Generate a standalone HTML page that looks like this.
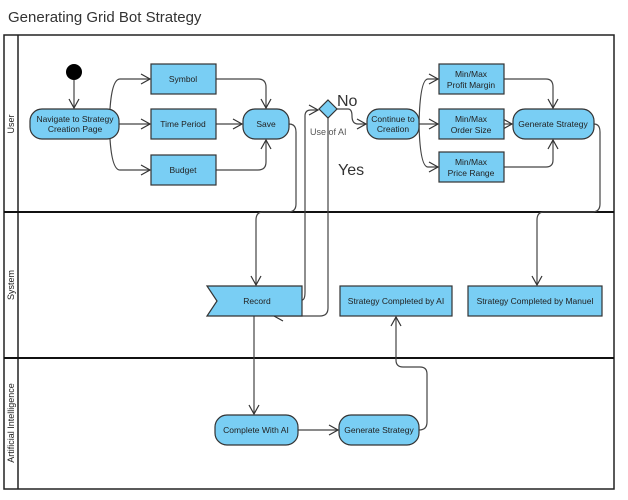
<!DOCTYPE html>
<html><head><meta charset="utf-8"><style>
body{margin:0;background:#fff;width:628px;height:500px;overflow:hidden}
svg{display:block}
text{font-family:"Liberation Sans",Arial,sans-serif}
</style></head><body>
<svg width="628" height="500" viewBox="0 0 628 500" xmlns="http://www.w3.org/2000/svg">
<defs>
<marker id="a" markerWidth="12" markerHeight="12" refX="10" refY="6" orient="auto" markerUnits="userSpaceOnUse">
<path d="M1,1 L10,6 L1,11" fill="none" stroke="#333" stroke-width="1.2"/>
</marker>
</defs>
<text x="8" y="22" font-size="15" fill="#333">Generating Grid Bot Strategy</text>
<!-- frame -->
<rect x="4" y="35" width="610" height="454" fill="#fff" stroke="#222" stroke-width="1.5"/>
<line x1="18" y1="35" x2="18" y2="489" stroke="#222" stroke-width="1.5"/>
<line x1="4" y1="212" x2="614" y2="212" stroke="#111" stroke-width="2"/>
<line x1="4" y1="358" x2="614" y2="358" stroke="#111" stroke-width="2"/>
<text transform="translate(14,124) rotate(-90)" text-anchor="middle" font-size="9" fill="#222">User</text>
<text transform="translate(14,285) rotate(-90)" text-anchor="middle" font-size="9" fill="#222">System</text>
<text transform="translate(14,423) rotate(-90)" text-anchor="middle" font-size="9" fill="#222">Artificial Intelligence</text>

<g fill="none" stroke="#444" stroke-width="1.2">
<!-- start -->
<path d="M74,80 V108" marker-end="url(#a)"/>
<path d="M110,109 Q112,79 120,79 H150" marker-end="url(#a)"/>
<path d="M119,124 H150" marker-end="url(#a)"/>
<path d="M110,139 Q112,170 120,170 H150" marker-end="url(#a)"/>
<path d="M216,79 H258 Q266,79 266,87 V108" marker-end="url(#a)"/>
<path d="M216,124 H242" marker-end="url(#a)"/>
<path d="M216,170 H258 Q266,170 266,162 V140" marker-end="url(#a)"/>
<!-- save to record -->
<path d="M289,124 Q296,124 296,132 V204 Q296,212 288,212 H263 Q256,212 256,220 V285" marker-end="url(#a)"/>
<!-- record to diamond -->
<path d="M302,300 Q305,300 305,292 V116 Q305,110 311,110 H318" marker-end="url(#a)"/>
<!-- diamond bottom to record -->
<path d="M328,118 V308 Q328,316 320,316 H274" marker-end="url(#a)"/>
<!-- diamond right to continue -->
<path d="M337,109 H348 Q352,109 352,116 Q352,124 358,124 H366" marker-end="url(#a)"/>
<path d="M419,124 H438" marker-end="url(#a)"/>
<path d="M419,124 Q420,79 428,79 H438" marker-end="url(#a)"/>
<path d="M419,124 Q420,167 428,167 H438" marker-end="url(#a)"/>
<path d="M504,79 H546 Q553,79 553,87 V108" marker-end="url(#a)"/>
<path d="M504,124 H512" marker-end="url(#a)"/>
<path d="M504,167 H546 Q553,167 553,160 V140" marker-end="url(#a)"/>
<!-- generate to manuel -->
<path d="M594,124 Q600,124 600,132 V204 Q600,212 592,212 H544 Q537,212 537,220 V285" marker-end="url(#a)"/>
<!-- record to complete -->
<path d="M254,316 V414" marker-end="url(#a)"/>
<path d="M298,430 H338" marker-end="url(#a)"/>
<path d="M419,430 Q427,430 427,422 V374 Q427,367 420,367 H403 Q396,367 396,360 V317" marker-end="url(#a)"/>
</g>

<circle cx="74" cy="72" r="8" fill="#000"/>
<g fill="#79CEF4" stroke="#333" stroke-width="1.2">
<rect x="30" y="109" width="89" height="30" rx="12"/>
<rect x="151" y="64" width="65" height="30"/>
<rect x="151" y="109" width="65" height="30"/>
<rect x="151" y="155" width="65" height="30"/>
<rect x="243" y="109" width="46" height="30" rx="12"/>
<path d="M328,100 L337,109 L328,118 L319,109 Z"/>
<rect x="367" y="109" width="52" height="30" rx="12"/>
<rect x="439" y="64" width="65" height="30"/>
<rect x="439" y="109" width="65" height="30"/>
<rect x="439" y="152" width="65" height="30"/>
<rect x="513" y="109" width="81" height="30" rx="12"/>
<path d="M207,286 H302 V316 H207 L217,301 Z"/>
<rect x="340" y="286" width="112" height="30"/>
<rect x="468" y="286" width="134" height="30"/>
<rect x="215" y="415" width="83" height="30" rx="12"/>
<rect x="339" y="415" width="80" height="30" rx="12"/>
</g>
<g font-size="8.5" fill="#222" text-anchor="middle">
<text x="75" y="122">Navigate to Strategy</text>
<text x="75" y="132">Creation Page</text>
<text x="183" y="82">Symbol</text>
<text x="183" y="127">Time Period</text>
<text x="183" y="173">Budget</text>
<text x="266" y="127">Save</text>
<text x="393" y="122">Continue to</text>
<text x="393" y="132">Creation</text>
<text x="471" y="77">Min/Max</text>
<text x="471" y="88">Profit Margin</text>
<text x="471" y="122">Min/Max</text>
<text x="471" y="133">Order Size</text>
<text x="471" y="165">Min/Max</text>
<text x="471" y="176">Price Range</text>
<text x="553" y="127">Generate Strategy</text>
<text x="257" y="304">Record</text>
<text x="396" y="304">Strategy Completed by AI</text>
<text x="535" y="304">Strategy Completed by Manuel</text>
<text x="256" y="433">Complete With AI</text>
<text x="379" y="433">Generate Strategy</text>
</g>
<text x="310" y="135" font-size="9" fill="#555">Use of AI</text>
<text x="337" y="106" font-size="16" fill="#333">No</text>
<text x="338" y="175" font-size="16" fill="#333">Yes</text>
</svg>
</body></html>
